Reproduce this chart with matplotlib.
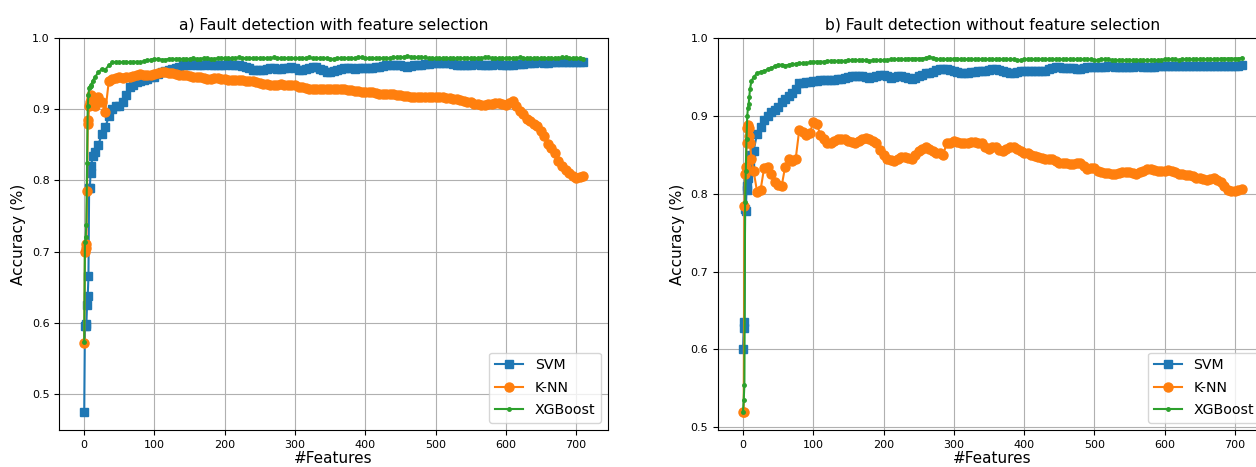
import matplotlib
matplotlib.use("Agg")
import matplotlib.pyplot as plt

# Number of features at which the accuracy was sampled
n_features = list(range(0, 11)) + [12, 15] + list(range(20, 711, 5))

# a) with feature selection
svm_fs = [0.474, 0.595, 0.598, 0.595, 0.625, 0.637, 0.665, 0.79, 0.79, 0.81, 0.82, 0.835, 0.84,
          0.85, 0.865, 0.875, 0.89, 0.90, 0.905, 0.905, 0.91, 0.92, 0.932,
          0.935, 0.938, 0.94, 0.942, 0.943, 0.945, 0.946, 0.95, 0.952, 0.954,
          0.956, 0.957, 0.958, 0.96, 0.962, 0.963, 0.962, 0.964, 0.963, 0.962,
          0.962, 0.964, 0.963, 0.962, 0.962, 0.963, 0.963, 0.964, 0.962, 0.963,
          0.963, 0.961, 0.96, 0.958, 0.956, 0.955, 0.955, 0.956, 0.957, 0.958,
          0.958, 0.957, 0.957, 0.958, 0.958, 0.959, 0.958, 0.956, 0.955, 0.957,
          0.958, 0.96, 0.96, 0.957, 0.955, 0.953, 0.953, 0.954, 0.955, 0.957,
          0.958, 0.958, 0.958, 0.957, 0.958, 0.958, 0.958, 0.958, 0.958, 0.959,
          0.96, 0.961, 0.962, 0.962, 0.962, 0.963, 0.962, 0.961, 0.96, 0.961,
          0.962, 0.963, 0.963, 0.964, 0.964, 0.965, 0.965, 0.965, 0.965, 0.965,
          0.965, 0.964, 0.963, 0.962, 0.962, 0.963, 0.963, 0.964, 0.964, 0.963,
          0.962, 0.962, 0.963, 0.964, 0.964, 0.963, 0.962, 0.962, 0.963, 0.964,
          0.964, 0.964, 0.965, 0.965, 0.965, 0.966, 0.966, 0.965, 0.965, 0.966,
          0.966, 0.967, 0.967, 0.967, 0.967, 0.967, 0.967, 0.967, 0.966]
knn_fs = [0.572, 0.70, 0.71, 0.705, 0.785, 0.88, 0.885, 0.905, 0.91, 0.915, 0.92, 0.915, 0.905,
          0.918, 0.91, 0.897, 0.94, 0.943, 0.944, 0.945, 0.944, 0.945, 0.946,
          0.947, 0.948, 0.95, 0.949, 0.948, 0.949, 0.95, 0.951, 0.952, 0.952,
          0.951, 0.951, 0.95, 0.949, 0.948, 0.948, 0.947, 0.946, 0.945, 0.945,
          0.944, 0.943, 0.943, 0.944, 0.944, 0.943, 0.943, 0.942, 0.942, 0.942,
          0.942, 0.941, 0.94, 0.94, 0.94, 0.938, 0.937, 0.936, 0.936, 0.935,
          0.935, 0.935, 0.936, 0.935, 0.935, 0.935, 0.934, 0.932, 0.931, 0.93,
          0.929, 0.929, 0.929, 0.928, 0.928, 0.928, 0.928, 0.929, 0.929, 0.928,
          0.928, 0.927, 0.927, 0.926, 0.926, 0.925, 0.925, 0.924, 0.924, 0.923,
          0.922, 0.922, 0.921, 0.921, 0.921, 0.92, 0.92, 0.919, 0.919, 0.918,
          0.918, 0.918, 0.918, 0.918, 0.918, 0.917, 0.917, 0.917, 0.917, 0.916,
          0.916, 0.915, 0.914, 0.913, 0.912, 0.911, 0.91, 0.908, 0.907, 0.906,
          0.906, 0.907, 0.908, 0.909, 0.909, 0.908, 0.906, 0.909, 0.912, 0.905,
          0.898, 0.893, 0.887, 0.884, 0.88, 0.876, 0.87, 0.862, 0.852, 0.845,
          0.838, 0.828, 0.82, 0.815, 0.81, 0.806, 0.804, 0.805, 0.806]
xgb_fs = [0.573, 0.713, 0.72, 0.737, 0.825, 0.905, 0.92, 0.93, 0.932, 0.933, 0.935, 0.94, 0.945,
          0.952, 0.957, 0.956, 0.962, 0.966, 0.967, 0.966, 0.967, 0.967, 0.966,
          0.967, 0.967, 0.966, 0.968, 0.969, 0.97, 0.971, 0.971, 0.97, 0.97,
          0.971, 0.971, 0.971, 0.971, 0.971, 0.971, 0.971, 0.972, 0.971, 0.971,
          0.972, 0.972, 0.971, 0.971, 0.972, 0.972, 0.972, 0.972, 0.972, 0.972,
          0.973, 0.972, 0.972, 0.972, 0.972, 0.972, 0.972, 0.972, 0.972, 0.972,
          0.973, 0.972, 0.972, 0.972, 0.972, 0.972, 0.972, 0.972, 0.972, 0.972,
          0.973, 0.972, 0.972, 0.972, 0.972, 0.972, 0.971, 0.971, 0.972, 0.972,
          0.972, 0.972, 0.972, 0.972, 0.973, 0.973, 0.972, 0.972, 0.972, 0.972,
          0.972, 0.972, 0.972, 0.972, 0.973, 0.973, 0.973, 0.974, 0.975, 0.974,
          0.973, 0.973, 0.973, 0.973, 0.972, 0.972, 0.972, 0.972, 0.972, 0.972,
          0.972, 0.972, 0.972, 0.972, 0.972, 0.972, 0.972, 0.972, 0.972, 0.972,
          0.973, 0.973, 0.972, 0.972, 0.972, 0.972, 0.972, 0.972, 0.972, 0.972,
          0.973, 0.972, 0.972, 0.972, 0.972, 0.972, 0.972, 0.972, 0.972, 0.972,
          0.972, 0.972, 0.973, 0.973, 0.972, 0.972, 0.972, 0.972, 0.971]

# b) without feature selection
svm_all = [0.600, 0.627, 0.635, 0.78, 0.778, 0.805, 0.81, 0.82, 0.83, 0.835, 0.84, 0.85, 0.855,
           0.877, 0.886, 0.895, 0.9, 0.905, 0.908, 0.912, 0.918, 0.922, 0.926,
           0.93, 0.935, 0.942, 0.943, 0.944, 0.944, 0.945, 0.945, 0.946, 0.946,
           0.947, 0.947, 0.947, 0.948, 0.948, 0.949, 0.95, 0.951, 0.952, 0.952,
           0.951, 0.95, 0.949, 0.95, 0.952, 0.953, 0.953, 0.951, 0.949, 0.95,
           0.951, 0.951, 0.95, 0.949, 0.948, 0.949, 0.951, 0.953, 0.955, 0.956,
           0.957, 0.959, 0.96, 0.96, 0.96, 0.959, 0.958, 0.957, 0.956, 0.956,
           0.956, 0.957, 0.957, 0.958, 0.958, 0.958, 0.959, 0.96, 0.96, 0.959,
           0.958, 0.957, 0.956, 0.956, 0.957, 0.958, 0.958, 0.958, 0.958, 0.958,
           0.958, 0.958, 0.958, 0.96, 0.962, 0.963, 0.963, 0.962, 0.962, 0.962,
           0.962, 0.961, 0.96, 0.962, 0.963, 0.963, 0.963, 0.963, 0.963, 0.963,
           0.964, 0.964, 0.963, 0.963, 0.963, 0.963, 0.963, 0.963, 0.964, 0.964,
           0.963, 0.963, 0.963, 0.963, 0.964, 0.964, 0.964, 0.964, 0.965, 0.965,
           0.964, 0.964, 0.964, 0.964, 0.965, 0.965, 0.965, 0.965, 0.965, 0.965,
           0.964, 0.965, 0.965, 0.965, 0.965, 0.965, 0.965, 0.965, 0.966]
knn_all = [0.52, 0.52, 0.785, 0.825, 0.835, 0.865, 0.885, 0.888, 0.885, 0.875, 0.865, 0.845, 0.83,
           0.803, 0.805, 0.833, 0.835, 0.825, 0.815, 0.811, 0.81, 0.835, 0.845,
           0.842, 0.845, 0.882, 0.88, 0.876, 0.878, 0.892, 0.89, 0.876, 0.87,
           0.866, 0.866, 0.868, 0.87, 0.87, 0.87, 0.868, 0.867, 0.866, 0.868,
           0.871, 0.872, 0.87, 0.868, 0.865, 0.856, 0.85, 0.845, 0.843, 0.842,
           0.845, 0.847, 0.848, 0.846, 0.845, 0.85, 0.855, 0.858, 0.86, 0.858,
           0.855, 0.853, 0.852, 0.85, 0.866, 0.866, 0.868, 0.867, 0.866, 0.866,
           0.866, 0.867, 0.867, 0.866, 0.865, 0.86, 0.858, 0.86, 0.86, 0.857,
           0.855, 0.858, 0.86, 0.86, 0.858, 0.855, 0.853, 0.852, 0.85, 0.849,
           0.848, 0.846, 0.845, 0.845, 0.845, 0.842, 0.84, 0.84, 0.84, 0.839,
           0.838, 0.84, 0.84, 0.836, 0.832, 0.833, 0.833, 0.83, 0.828, 0.827,
           0.827, 0.826, 0.826, 0.827, 0.828, 0.828, 0.828, 0.827, 0.826, 0.828,
           0.83, 0.832, 0.832, 0.831, 0.83, 0.83, 0.83, 0.831, 0.83, 0.828,
           0.826, 0.825, 0.824, 0.824, 0.823, 0.821, 0.82, 0.819, 0.818, 0.819,
           0.82, 0.818, 0.815, 0.81, 0.805, 0.804, 0.804, 0.805, 0.806]
xgb_all = [0.52, 0.535, 0.555, 0.79, 0.83, 0.87, 0.9, 0.91, 0.915, 0.925, 0.935, 0.945, 0.95,
           0.955, 0.957, 0.958, 0.96, 0.962, 0.964, 0.966, 0.966, 0.965, 0.966,
           0.967, 0.967, 0.968, 0.968, 0.968, 0.969, 0.97, 0.97, 0.97, 0.97,
           0.971, 0.971, 0.971, 0.971, 0.971, 0.971, 0.972, 0.972, 0.972, 0.972,
           0.972, 0.972, 0.971, 0.972, 0.972, 0.972, 0.972, 0.972, 0.973, 0.973,
           0.973, 0.973, 0.973, 0.974, 0.974, 0.974, 0.974, 0.974, 0.975, 0.976,
           0.975, 0.974, 0.973, 0.973, 0.973, 0.973, 0.974, 0.974, 0.973, 0.973,
           0.973, 0.973, 0.973, 0.973, 0.973, 0.973, 0.973, 0.973, 0.973, 0.973,
           0.973, 0.973, 0.973, 0.973, 0.972, 0.972, 0.973, 0.973, 0.973, 0.973,
           0.973, 0.973, 0.973, 0.973, 0.973, 0.973, 0.973, 0.973, 0.973, 0.973,
           0.973, 0.973, 0.973, 0.973, 0.973, 0.973, 0.972, 0.972, 0.973, 0.973,
           0.973, 0.972, 0.972, 0.972, 0.972, 0.972, 0.972, 0.972, 0.972, 0.972,
           0.972, 0.972, 0.972, 0.972, 0.972, 0.972, 0.973, 0.973, 0.973, 0.973,
           0.972, 0.973, 0.973, 0.973, 0.973, 0.973, 0.973, 0.973, 0.973, 0.973,
           0.973, 0.973, 0.974, 0.974, 0.974, 0.974, 0.974, 0.974, 0.975]

titles = ['a) Fault detection with feature selection', 'b) Fault detection without feature selection']
panels = [(svm_fs, knn_fs, xgb_fs), (svm_all, knn_all, xgb_all)]
ylims = [(0.449, 1.0), (0.4965, 1.0)]

fig = plt.figure(figsize=(12.56, 4.67), dpi=100)
# right panel runs off the right edge in the reference screenshot
ax_a = fig.add_axes([0.0472, 0.0792, 0.4369, 0.8388])
ax_b = fig.add_axes([0.5717, 0.0792, 0.4369, 0.8388])

for ax, (svm, knn, xgb), title, ylim in zip([ax_a, ax_b], panels, titles, ylims):
    ax.plot(n_features, svm, marker='s', markersize=6, label='SVM')
    ax.plot(n_features, knn, marker='o', markersize=6.5, label='K-NN')
    ax.plot(n_features, xgb, marker='.', markersize=5, label='XGBoost')
    ax.set_xlim(-35.5, 745.5)
    ax.set_ylim(*ylim)
    ax.grid(True)
    ax.set_title(title, fontsize=11.2)
    ax.set_xlabel('#Features', fontsize=11, labelpad=1)
    ax.set_ylabel('Accuracy (%)', fontsize=11)
    ax.tick_params(labelsize=8)
    ax.legend(loc='lower right', fontsize=10.2, labelspacing=0.6)

fig.savefig('out.png', dpi=100)
